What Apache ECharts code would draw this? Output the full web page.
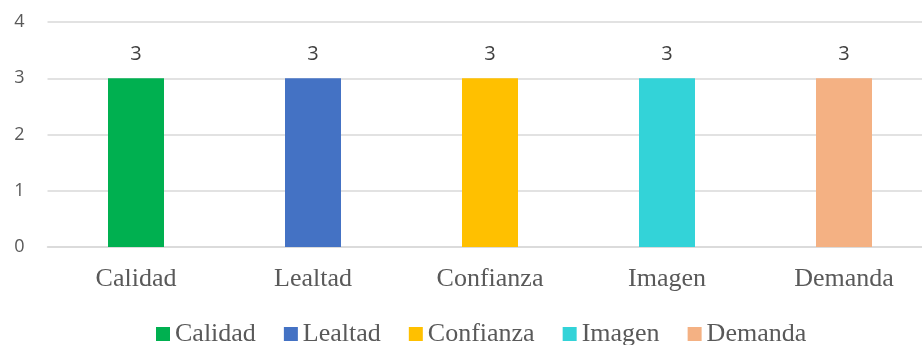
<!DOCTYPE html>
<html>
<head>
<meta charset="utf-8">
<script src="https://cdn.jsdelivr.net/npm/echarts@6/dist/echarts.min.js"></script>
<style>
  html, body { margin: 0; padding: 0; background: #fff; overflow: hidden; }
  /* el area de trazado sigue un poco mas alla del borde derecho */
  #chart { width: 933px; height: 345px; }
</style>
</head>
<body>
<div id="chart"></div>
<script>
// datos del grafico
const categorias = ['Calidad', 'Lealtad', 'Confianza', 'Imagen', 'Demanda']
const valores = [3, 3, 3, 3, 3]
const colores = ['#00b050', '#4472c4', '#ffc000', '#33d3d8', '#f4b183']
const yTicks = [0, 1, 2, 3, 4]

const myChart = echarts.init(document.getElementById('chart'))

// una serie por categoria, apiladas para que queden centradas
const series = categorias.map((name, i) => ({
  name: name,
  type: 'bar',
  stack: 'total',
  barWidth: 56,
  itemStyle: { color: colores[i] },
  label: {
    show: true,
    position: 'top',
    distance: 14,
    color: '#404040',
    fontFamily: 'Open Sans',
    fontSize: 20
  },
  data: categorias.map((c, j) => (j === i ? valores[i] : '-'))
}))

const option = {
  animation: false,
  grid: { left: 47.5, right: 0.5, top: 22, bottom: 98 },
  legend: {
    data: categorias,
    left: 151,
    top: 316,
    icon: 'rect',
    itemWidth: 14,
    itemHeight: 14,
    itemGap: 28,
    textStyle: { fontFamily: 'Liberation Serif', fontSize: 26, color: '#595959' }
  },
  xAxis: {
    type: 'category',
    data: categorias,
    axisLine: { lineStyle: { color: '#d9d9d9', width: 1.5 } },
    axisTick: { show: false },
    axisLabel: { margin: 19, fontFamily: 'Liberation Serif', fontSize: 26, color: '#595959' }
  },
  yAxis: {
    type: 'value',
    min: yTicks[0],
    max: yTicks[yTicks.length - 1],
    interval: 1,
    axisLine: { show: false },
    axisTick: { show: false },
    splitLine: { lineStyle: { color: '#d9d9d9', width: 1.5 } },
    axisLabel: { margin: 23, fontFamily: 'Open Sans', fontSize: 18, color: '#595959' }
  },
  series: series
}

myChart.setOption(option)
</script>
</body>
</html>
